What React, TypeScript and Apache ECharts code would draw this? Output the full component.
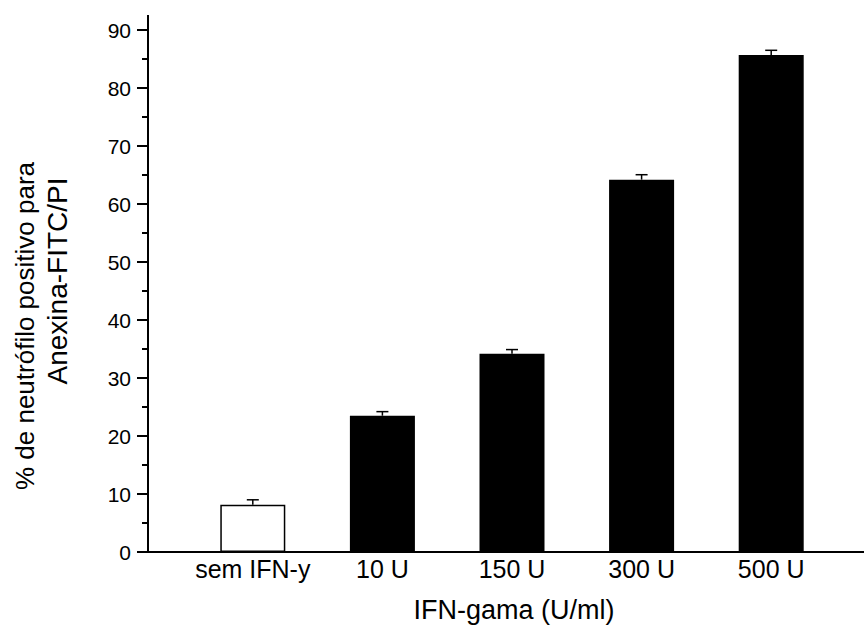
import React, { useEffect, useRef } from "react";
import * as echarts from "echarts";

const categories = ["sem IFN-y", "10 U", "150 U", "300 U", "500 U"];
const means = [8.15, 23.5, 34.2, 64.2, 85.7];
const errors = [0.85, 0.7, 0.7, 0.85, 0.8];
const barColors = ["#ffffff", "#000000", "#000000", "#000000", "#000000"];
const yMin = 0;
const yMax = 90;
const yInterval = 10;
const xTitle = "IFN-gama (U/ml)";
const yTitleLines = ["% de neutrófilo positivo para", "Anexina-FITC/PI"];

const FONT = '"Liberation Sans", Arial, sans-serif';

export default function App() {
  const ref = useRef<HTMLDivElement>(null);
  useEffect(() => {
    if (!ref.current) return;
    const chart = echarts.init(ref.current, null, { renderer: "svg" });
    const gridTop = 30;
    const gridBottom = 74;
    const barGridLeft = 188;
    const band = 129.6;
    const axisX = 148;
    chart.setOption({
      animation: false,
      backgroundColor: "#ffffff",
      grid: [
        { left: barGridLeft, width: band * categories.length, top: gridTop, bottom: gridBottom },
        { left: axisX, right: 0, top: gridTop, bottom: gridBottom },
      ],
      xAxis: [
        {
          type: "category",
          gridIndex: 0,
          data: categories,
          axisLine: { show: false },
          axisTick: { show: false },
          axisLabel: { color: "#000", fontSize: 25, fontFamily: FONT, margin: 4, interval: 0 },
          splitLine: { show: false },
        },
        {
          type: "value",
          gridIndex: 1,
          min: 0,
          max: 1,
          axisLine: { show: true, lineStyle: { color: "#000", width: 2 } },
          axisTick: { show: false },
          axisLabel: { show: false },
          splitLine: { show: false },
        },
      ],
      yAxis: [
        {
          type: "value",
          gridIndex: 0,
          min: yMin,
          max: yMax,
          interval: yInterval,
          offset: barGridLeft - axisX,
          axisLine: { show: true, lineStyle: { color: "#000", width: 2 } },
          axisTick: { show: true, inside: false, length: 11, lineStyle: { color: "#000", width: 2 } },
          minorTick: { show: true, splitNumber: 2, length: 6, lineStyle: { color: "#000", width: 2 } },
          axisLabel: { color: "#000", fontSize: 21, fontFamily: FONT, margin: 17 },
          splitLine: { show: false },
        },
        {
          type: "value",
          gridIndex: 1,
          show: false,
          min: 0,
          max: 1,
        },
      ],
      series: [
        {
          type: "bar",
          xAxisIndex: 0,
          yAxisIndex: 0,
          barWidth: 65,
          data: means.map((v, i) => ({
            value: v,
            itemStyle: { color: barColors[i], borderColor: "#000", borderWidth: 1.5 },
          })),
        },
        {
          type: "custom",
          xAxisIndex: 0,
          yAxisIndex: 0,
          z: 5,
          data: means.map((v, i) => [i, v, errors[i]]),
          renderItem: (params: any, api: any) => {
            const i = api.value(0);
            const v = api.value(1);
            const e = api.value(2);
            const top = api.coord([i, v + e]);
            const base = api.coord([i, v]);
            return {
              type: "group",
              children: [
                {
                  type: "line",
                  shape: { x1: top[0], y1: base[1], x2: top[0], y2: top[1] },
                  style: { stroke: "#000", lineWidth: 1.5 },
                },
                {
                  type: "line",
                  shape: { x1: top[0] - 6, y1: top[1], x2: top[0] + 6, y2: top[1] },
                  style: { stroke: "#000", lineWidth: 1.5 },
                },
              ],
            };
          },
        },
      ],
      graphic: [
        {
          type: "line",
          shape: { x1: axisX, y1: 15, x2: axisX, y2: gridTop },
          style: { stroke: "#000", lineWidth: 2 },
        },
        {
          type: "text",
          x: 514,
          y: 610,
          style: {
            text: xTitle,
            fontSize: 27,
            fontFamily: FONT,
            fill: "#000",
            align: "center",
            verticalAlign: "middle",
          },
        },
        {
          type: "text",
          x: 25,
          y: 326,
          rotation: Math.PI / 2,
          style: {
            text: yTitleLines[0],
            fontSize: 26,
            fontFamily: FONT,
            fill: "#000",
            align: "center",
            verticalAlign: "middle",
          },
        },
        {
          type: "text",
          x: 57,
          y: 281,
          rotation: Math.PI / 2,
          style: {
            text: yTitleLines[1],
            fontSize: 28,
            fontFamily: FONT,
            fill: "#000",
            align: "center",
            verticalAlign: "middle",
          },
        },
      ],
    });
    return () => chart.dispose();
  }, []);
  return (
    <div
      ref={ref}
      style={{ position: "fixed", left: 0, top: 0, width: 864, height: 626, background: "#fff" }}
    />
  );
}
